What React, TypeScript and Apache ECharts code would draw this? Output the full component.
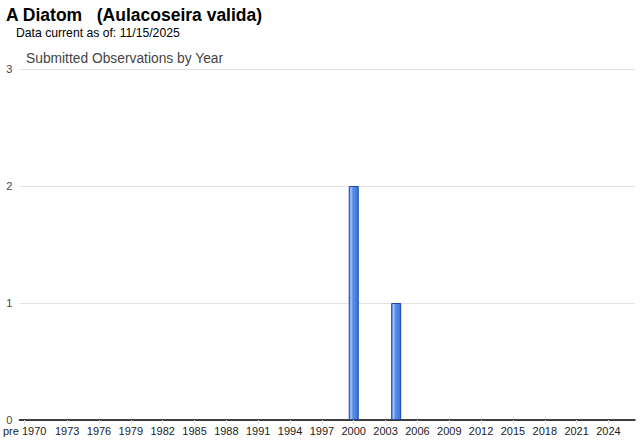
import React, { useEffect, useRef } from "react";
import * as echarts from "echarts";

const titleText = "A Diatom   (Aulacoseira valida)";
const subtitleText = "Data current as of: 11/15/2025";
const chartTitle = "Submitted Observations by Year";

const years: string[] = ["pre 1970"];
for (let y = 1970; y <= 2026; y++) years.push(String(y));

const observedYears = ["2000", "2004"];
const observedCounts = [2, 1];

const values = years.map((y) => {
  const i = observedYears.indexOf(y);
  return i >= 0 ? observedCounts[i] : "-";
});

const showIdx = (i: number) => i === 0 || (i >= 4 && (i - 4) % 3 === 0);

export default function App() {
  const ref = useRef<HTMLDivElement>(null);
  useEffect(() => {
    document.body.style.margin = "0";
    const chart = echarts.init(ref.current!, null, { renderer: "svg" });
    chart.setOption({
      animation: false,
      backgroundColor: "#ffffff",
      title: [
        {
          text: titleText,
          left: 1,
          top: 1,
          textStyle: { fontFamily: "Arial, Liberation Sans", fontSize: 17.5, fontWeight: "bold", color: "#000" },
        },
        {
          text: subtitleText,
          left: 11,
          top: 22,
          textStyle: { fontFamily: "Arial, Liberation Sans", fontSize: 12.2, fontWeight: "normal", color: "#000" },
        },
        {
          text: chartTitle,
          left: 21,
          top: 46,
          textStyle: { fontFamily: "Arial, Liberation Sans", fontSize: 13.8, fontWeight: "normal", color: "#444" },
        },
      ],
      grid: { left: 18, right: 5, top: 69, bottom: 22, containLabel: false },
      xAxis: {
        type: "category",
        data: years,
        axisLine: { lineStyle: { color: "#000", width: 1.5 } },
        axisTick: {
          show: true,
          alignWithLabel: true,
          interval: (i: number) => showIdx(i),
          length: 4,
          lineStyle: { color: "#ddd" },
        },
        axisLabel: {
          interval: (i: number) => showIdx(i),
          fontFamily: "Arial, Liberation Sans",
          fontSize: 11,
          color: "#222",
          margin: 5,
        },
      },
      yAxis: {
        type: "value",
        min: 0,
        max: 3,
        interval: 1,
        axisLine: { show: false },
        axisTick: { show: false },
        axisLabel: { fontFamily: "Arial, Liberation Sans", fontSize: 11, color: "#444", margin: 7 },
        splitLine: { lineStyle: { color: "#e3e3e3" } },
      },
      series: [
        {
          type: "bar",
          data: values,
          barWidth: 10,
          itemStyle: {
            borderColor: "#1a47a8",
            borderWidth: 1,
            color: new echarts.graphic.LinearGradient(0, 0, 1, 0, [
              { offset: 0, color: "#4f86e6" },
              { offset: 0.2, color: "#a9c5f4" },
              { offset: 0.4, color: "#5a8ee8" },
              { offset: 1, color: "#3c74dc" },
            ]),
          },
        },
      ],
    });
    return () => chart.dispose();
  }, []);
  return <div ref={ref} style={{ width: 640, height: 442 }} />;
}
